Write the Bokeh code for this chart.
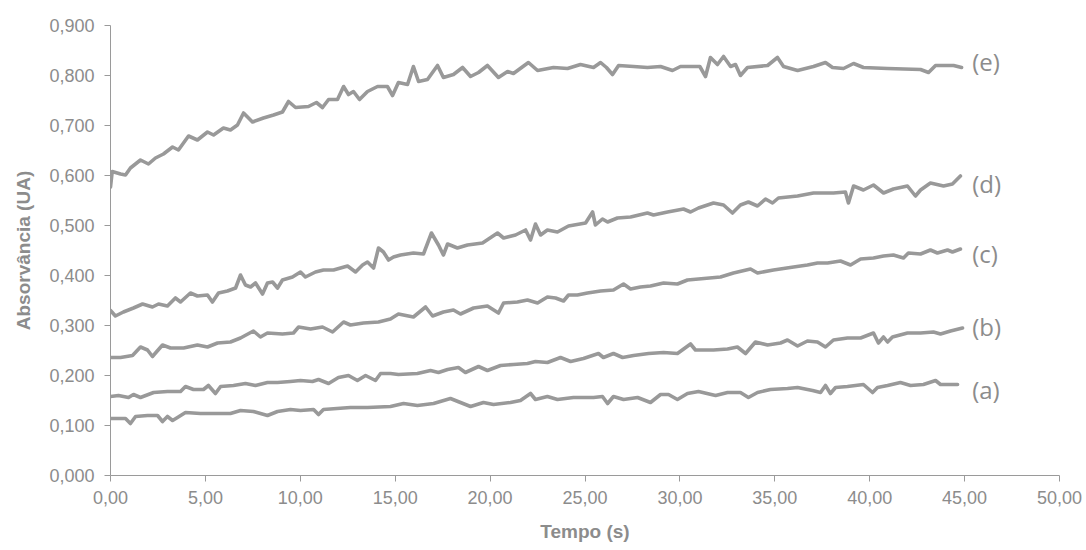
from bokeh.plotting import figure
from bokeh.models import Range1d, FixedTicker, Label
from bokeh.embed import file_html
from bokeh.resources import INLINE

# ---- data (time in s, absorbance in UA) ----
t_e = [0.00, 0.09, 0.53, 0.79, 1.05, 1.58, 2.00, 2.37, 2.79, 3.27, 3.58, 4.11, 4.58, 5.11, 5.43, 5.95,
       6.32, 6.69, 7.01, 7.48, 8.06, 8.59, 9.06, 9.38, 9.75, 10.43, 10.85, 11.17, 11.49, 11.96, 12.28,
       12.54, 12.80, 13.12, 13.54, 14.07, 14.59, 14.86, 15.17, 15.65, 15.96, 16.23, 16.70, 17.23, 17.54,
       18.07, 18.55, 18.97, 19.39, 19.86, 20.44, 20.92, 21.23, 22.02, 22.50, 23.34, 24.08, 24.76, 25.45,
       25.82, 26.13, 26.45, 26.77, 27.56, 28.29, 28.98, 29.61, 30.03, 31.05, 31.35, 31.61, 31.98, 32.30,
       32.67, 32.93, 33.19, 33.56, 34.62, 35.14, 35.46, 36.20, 37.04, 37.67, 38.04, 38.62, 39.15, 39.67,
       40.94, 42.68, 43.10, 43.47, 44.42, 44.84]
v_e = [0.577, 0.608, 0.603, 0.601, 0.615, 0.631, 0.623, 0.635, 0.643, 0.657, 0.651, 0.679, 0.671, 0.687,
       0.681, 0.695, 0.691, 0.701, 0.725, 0.707, 0.715, 0.721, 0.727, 0.748, 0.736, 0.738, 0.746, 0.736,
       0.752, 0.752, 0.778, 0.762, 0.768, 0.752, 0.768, 0.778, 0.778, 0.760, 0.786, 0.782, 0.818, 0.788,
       0.792, 0.820, 0.796, 0.802, 0.816, 0.798, 0.806, 0.820, 0.796, 0.808, 0.804, 0.826, 0.810, 0.816,
       0.814, 0.822, 0.816, 0.826, 0.816, 0.802, 0.820, 0.818, 0.816, 0.818, 0.810, 0.818, 0.818, 0.798,
       0.836, 0.822, 0.838, 0.818, 0.822, 0.800, 0.816, 0.820, 0.836, 0.818, 0.810, 0.818, 0.826, 0.816,
       0.814, 0.824, 0.816, 0.814, 0.812, 0.806, 0.820, 0.820, 0.816]

t_d = [0.00, 0.26, 0.68, 1.21, 1.69, 2.21, 2.53, 3.00, 3.42, 3.69, 4.21, 4.58, 5.11, 5.37, 5.69, 6.16,
       6.59, 6.85, 7.11, 7.38, 7.64, 8.01, 8.27, 8.54, 8.80, 9.06, 9.59, 10.01, 10.27, 10.80, 11.22,
       11.75, 12.49, 12.91, 13.28, 13.54, 13.86, 14.12, 14.38, 14.65, 14.91, 15.28, 15.96, 16.49, 16.91,
       17.28, 17.54, 17.76, 18.28, 18.81, 19.60, 20.39, 20.71, 21.34, 21.87, 22.13, 22.39, 22.66, 23.02,
       23.55, 24.13, 25.03, 25.40, 25.55, 25.92, 26.19, 26.71, 27.40, 28.29, 28.61, 29.35, 30.19, 30.56,
       30.98, 31.77, 32.30, 32.77, 33.19, 33.61, 34.09, 34.51, 34.88, 35.19, 36.20, 37.04, 38.09, 38.72,
       38.88, 39.15, 39.67, 40.20, 40.73, 41.25, 41.99, 42.41, 42.68, 43.20, 43.89, 44.36, 44.78]
v_d = [0.330, 0.319, 0.327, 0.335, 0.343, 0.337, 0.343, 0.339, 0.355, 0.347, 0.365, 0.359, 0.361, 0.347,
       0.365, 0.369, 0.375, 0.401, 0.381, 0.377, 0.385, 0.363, 0.385, 0.387, 0.375, 0.391, 0.397, 0.407,
       0.397, 0.407, 0.411, 0.411, 0.419, 0.407, 0.421, 0.427, 0.415, 0.455, 0.447, 0.431, 0.437, 0.441,
       0.445, 0.443, 0.485, 0.461, 0.441, 0.463, 0.455, 0.461, 0.465, 0.485, 0.475, 0.481, 0.491, 0.471,
       0.503, 0.481, 0.491, 0.487, 0.499, 0.505, 0.527, 0.501, 0.513, 0.507, 0.515, 0.517, 0.525, 0.521,
       0.527, 0.533, 0.527, 0.535, 0.545, 0.541, 0.525, 0.541, 0.547, 0.539, 0.553, 0.545, 0.555, 0.559,
       0.565, 0.565, 0.567, 0.545, 0.579, 0.571, 0.581, 0.565, 0.573, 0.579, 0.559, 0.571, 0.585, 0.579,
       0.583, 0.599]

t_c = [0.00, 0.53, 1.16, 1.58, 1.95, 2.21, 2.74, 3.16, 3.85, 4.58, 5.11, 5.64, 6.32, 6.85, 7.53, 7.90,
       8.27, 9.06, 9.64, 9.91, 10.54, 11.17, 11.70, 12.28, 12.64, 13.33, 14.12, 14.75, 15.17, 15.96,
       16.60, 16.97, 17.54, 18.07, 18.44, 19.13, 19.86, 20.44, 20.71, 21.44, 21.97, 22.50, 23.02, 23.45,
       23.87, 24.13, 24.60, 25.13, 25.82, 26.50, 27.03, 27.40, 27.92, 28.45, 29.14, 29.87, 30.40, 30.98,
       32.14, 32.82, 33.72, 34.09, 34.93, 35.99, 36.72, 37.25, 37.78, 38.46, 38.99, 39.52, 40.20, 40.73,
       41.25, 41.78, 42.04, 42.68, 43.20, 43.57, 44.10, 44.36, 44.78]
v_c = [0.236, 0.236, 0.240, 0.257, 0.251, 0.238, 0.261, 0.255, 0.255, 0.261, 0.257, 0.265, 0.267, 0.275,
       0.289, 0.277, 0.285, 0.283, 0.285, 0.297, 0.293, 0.297, 0.287, 0.307, 0.301, 0.305, 0.307, 0.313,
       0.323, 0.317, 0.337, 0.319, 0.327, 0.331, 0.323, 0.335, 0.339, 0.325, 0.345, 0.347, 0.351, 0.345,
       0.357, 0.355, 0.349, 0.361, 0.361, 0.365, 0.369, 0.371, 0.383, 0.373, 0.377, 0.379, 0.385, 0.383,
       0.391, 0.393, 0.397, 0.405, 0.413, 0.405, 0.411, 0.417, 0.421, 0.425, 0.425, 0.429, 0.421, 0.433,
       0.435, 0.439, 0.441, 0.435, 0.445, 0.443, 0.451, 0.445, 0.451, 0.447, 0.453]

t_b = [0.00, 0.42, 0.95, 1.21, 1.58, 2.27, 3.00, 3.69, 3.95, 4.37, 4.90, 5.16, 5.53, 5.80, 6.48, 7.11,
       7.64, 8.27, 8.80, 9.48, 10.01, 10.64, 10.96, 11.49, 12.01, 12.54, 13.01, 13.44, 13.96, 14.23,
       14.75, 15.17, 16.17, 16.86, 17.28, 17.76, 18.33, 18.70, 19.39, 19.86, 20.55, 21.23, 21.97, 22.39,
       23.02, 23.71, 24.24, 24.92, 25.71, 25.97, 26.50, 26.98, 27.56, 28.35, 29.14, 29.87, 30.56, 30.82,
       31.77, 32.51, 33.03, 33.46, 33.98, 34.62, 35.30, 35.67, 36.20, 36.72, 37.25, 37.67, 38.09, 38.83,
       39.52, 40.20, 40.46, 40.73, 40.94, 41.20, 41.99, 42.68, 43.36, 43.73, 44.26, 44.89]
v_b = [0.158, 0.160, 0.156, 0.162, 0.156, 0.166, 0.168, 0.168, 0.178, 0.172, 0.172, 0.180, 0.164, 0.178,
       0.180, 0.184, 0.180, 0.186, 0.186, 0.188, 0.190, 0.188, 0.192, 0.184, 0.196, 0.200, 0.190, 0.200,
       0.190, 0.204, 0.204, 0.202, 0.204, 0.210, 0.206, 0.212, 0.216, 0.206, 0.218, 0.210, 0.220, 0.222,
       0.224, 0.228, 0.226, 0.236, 0.228, 0.234, 0.244, 0.236, 0.244, 0.236, 0.240, 0.244, 0.246, 0.244,
       0.263, 0.251, 0.251, 0.253, 0.257, 0.244, 0.267, 0.261, 0.265, 0.271, 0.259, 0.269, 0.267, 0.257,
       0.271, 0.275, 0.275, 0.285, 0.265, 0.277, 0.267, 0.277, 0.285, 0.285, 0.287, 0.283, 0.289, 0.295]

t_a = [0.00, 0.79, 1.05, 1.32, 1.95, 2.48, 2.74, 3.00, 3.27, 3.53, 3.95, 4.74, 5.64, 6.32, 6.85, 7.53,
       8.27, 8.80, 9.48, 10.01, 10.70, 10.96, 11.22, 12.64, 13.54, 14.75, 15.44, 16.17, 17.02, 17.91,
       18.44, 18.97, 19.65, 20.18, 21.07, 21.60, 22.13, 22.39, 23.02, 23.55, 24.39, 25.45, 25.92, 26.19,
       26.50, 27.03, 27.77, 28.45, 28.98, 29.40, 29.87, 30.40, 30.98, 31.88, 32.51, 33.19, 33.61, 34.09,
       34.77, 35.67, 36.20, 36.99, 37.41, 37.67, 37.93, 38.20, 38.83, 39.67, 40.15, 40.41, 40.94, 41.62,
       42.15, 42.83, 43.47, 43.73, 44.63]
v_a = [0.114, 0.114, 0.104, 0.118, 0.120, 0.120, 0.108, 0.118, 0.110, 0.116, 0.126, 0.124, 0.124, 0.124,
       0.130, 0.128, 0.120, 0.128, 0.132, 0.130, 0.132, 0.122, 0.132, 0.136, 0.136, 0.138, 0.144, 0.140,
       0.144, 0.154, 0.146, 0.138, 0.146, 0.142, 0.146, 0.150, 0.164, 0.152, 0.158, 0.152, 0.156, 0.156,
       0.158, 0.144, 0.158, 0.152, 0.156, 0.146, 0.162, 0.162, 0.152, 0.164, 0.168, 0.160, 0.166, 0.166,
       0.156, 0.166, 0.172, 0.174, 0.176, 0.170, 0.166, 0.180, 0.164, 0.176, 0.178, 0.182, 0.166, 0.176,
       0.180, 0.186, 0.180, 0.182, 0.190, 0.182, 0.182]

series_names = ["(a)", "(b)", "(c)", "(d)", "(e)"]
label_t = [45.4, 45.4, 45.4, 45.4, 45.4]
label_v = [0.172, 0.298, 0.445, 0.584, 0.828]

x_ticks = [0, 5, 10, 15, 20, 25, 30, 35, 40, 45, 50]
x_tick_labels = ["0,00", "5,00", "10,00", "15,00", "20,00", "25,00", "30,00", "35,00", "40,00", "45,00", "50,00"]
y_ticks = [0.0, 0.1, 0.2, 0.3, 0.4, 0.5, 0.6, 0.7, 0.8, 0.9]
y_tick_labels = ["0,000", "0,100", "0,200", "0,300", "0,400", "0,500", "0,600", "0,700", "0,800", "0,900"]

LINE = "#999999"
TEXT = "#8c8c8c"
AXIS = "#9a9a9a"

p = figure(width=1086, height=550, output_backend="svg", toolbar_location=None,
           x_range=Range1d(0, 50), y_range=Range1d(0, 0.9),
           min_border_left=110, min_border_right=27, min_border_top=25, min_border_bottom=75)
p.outline_line_color = None
p.xgrid.visible = False
p.ygrid.visible = False
p.background_fill_color = "white"

for t, v in [(t_a, v_a), (t_b, v_b), (t_c, v_c), (t_d, v_d), (t_e, v_e)]:
    p.line(t, v, line_color=LINE, line_width=3.6, line_join="round", line_cap="round")

for name, lt, lv in zip(series_names, label_t, label_v):
    p.add_layout(Label(x=lt, y=lv, text=name, text_font="Open Sans", text_font_size="24px",
                       text_color=TEXT, text_align="left", text_baseline="middle"))

for ax, ticks, labels in [(p.xaxis[0], x_ticks, x_tick_labels), (p.yaxis[0], y_ticks, y_tick_labels)]:
    ax.ticker = FixedTicker(ticks=ticks)
    ax.major_label_overrides = dict(zip(ticks, labels))
    ax.axis_line_color = AXIS
    ax.axis_line_width = 1
    ax.major_tick_line_color = AXIS
    ax.major_tick_in = 0
    ax.major_tick_out = 6
    ax.minor_tick_line_color = None
    ax.major_label_text_color = TEXT
    ax.major_label_text_font = "Liberation Sans"
    ax.major_label_text_font_size = "18px"
    ax.axis_label_text_color = TEXT
    ax.axis_label_text_font = "Liberation Sans"
    ax.axis_label_text_font_style = "bold"
    ax.axis_label_text_font_size = "19px"

p.xaxis.axis_label = "Tempo (s)"
p.yaxis.axis_label = "Absorvância (UA)"
p.xaxis.major_label_standoff = 9
p.yaxis.major_label_standoff = 10
p.xaxis.axis_label_standoff = 14
p.yaxis.axis_label_standoff = 12

open("out.html", "w").write(file_html(p, INLINE))
